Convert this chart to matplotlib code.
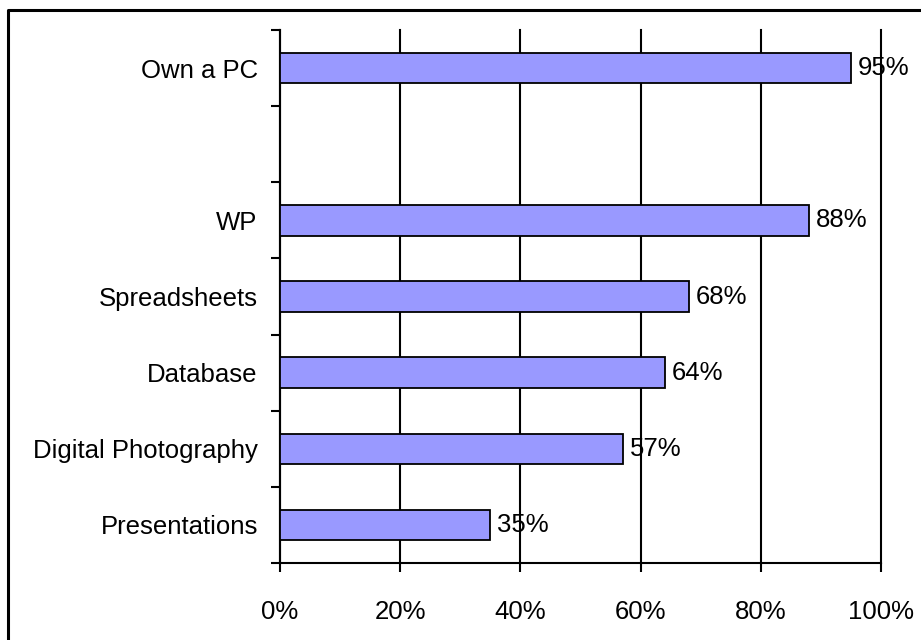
import matplotlib.pyplot as plt
from matplotlib.lines import Line2D
from matplotlib.ticker import FixedLocator, PercentFormatter

# bottom to top; the blank slot is an empty row in the original chart
categories = ["Presentations", "Digital Photography", "Database",
              "Spreadsheets", "WP", "", "Own a PC"]
values = [35, 57, 64, 68, 88, None, 95]
x_ticks = [0, 20, 40, 60, 80, 100]


def main() -> None:
    plt.rcParams["font.family"] = ["Liberation Sans", "DejaVu Sans"]
    fs = 18.5

    fig = plt.figure(figsize=(9.21, 6.4), dpi=100)
    ax = fig.add_axes([0.304, 0.1203, 0.6526, 0.8328])

    pos = [i for i, v in enumerate(values) if v is not None]
    vals = [values[i] for i in pos]
    ax.barh(pos, vals, height=0.4, color="#9999ff", edgecolor="black",
            linewidth=1.3, zorder=3)
    for p, v in zip(pos, vals):
        ax.annotate(f"{v}%", (v, p), xytext=(5, 0), textcoords="offset points",
                    va="center", ha="left", fontsize=fs, zorder=4)

    ax.set_xlim(0, 100)
    ax.set_ylim(-0.5, len(categories) - 0.5)
    ax.set_xticks(x_ticks)
    ax.xaxis.set_major_formatter(PercentFormatter(decimals=0))
    ax.grid(axis="x", color="black", linewidth=1.5, zorder=1)
    for gl in ax.get_xgridlines():
        gl.set_clip_on(False)

    # category boundaries as major ticks, labels at slot centres
    ax.yaxis.set_major_locator(FixedLocator([i - 0.5 for i in range(len(categories) + 1)]))
    ax.yaxis.set_minor_locator(FixedLocator(range(len(categories))))
    ax.set_yticklabels([], minor=False)
    ax.set_yticklabels(categories, minor=True)
    ax.tick_params(axis="y", which="major", length=6.5, width=1.5, direction="out")
    ax.tick_params(axis="y", which="minor", length=0, pad=16, labelsize=fs)
    ax.tick_params(axis="x", length=6.5, width=1.5, direction="out", pad=20,
                   labelsize=fs)

    for s in ("top", "right"):
        ax.spines[s].set_visible(False)
    for s in ("left", "bottom"):
        ax.spines[s].set_linewidth(1.5)

    # outer chart frame (left and top edges show in the picture)
    fig.add_artist(Line2D([8 / 921, 8 / 921, 1.0], [0.0, 1 - 10 / 640, 1 - 10 / 640],
                          transform=fig.transFigure, color="black", linewidth=2.2))

    fig.savefig("out.png", dpi=100)


if __name__ == "__main__":
    main()
